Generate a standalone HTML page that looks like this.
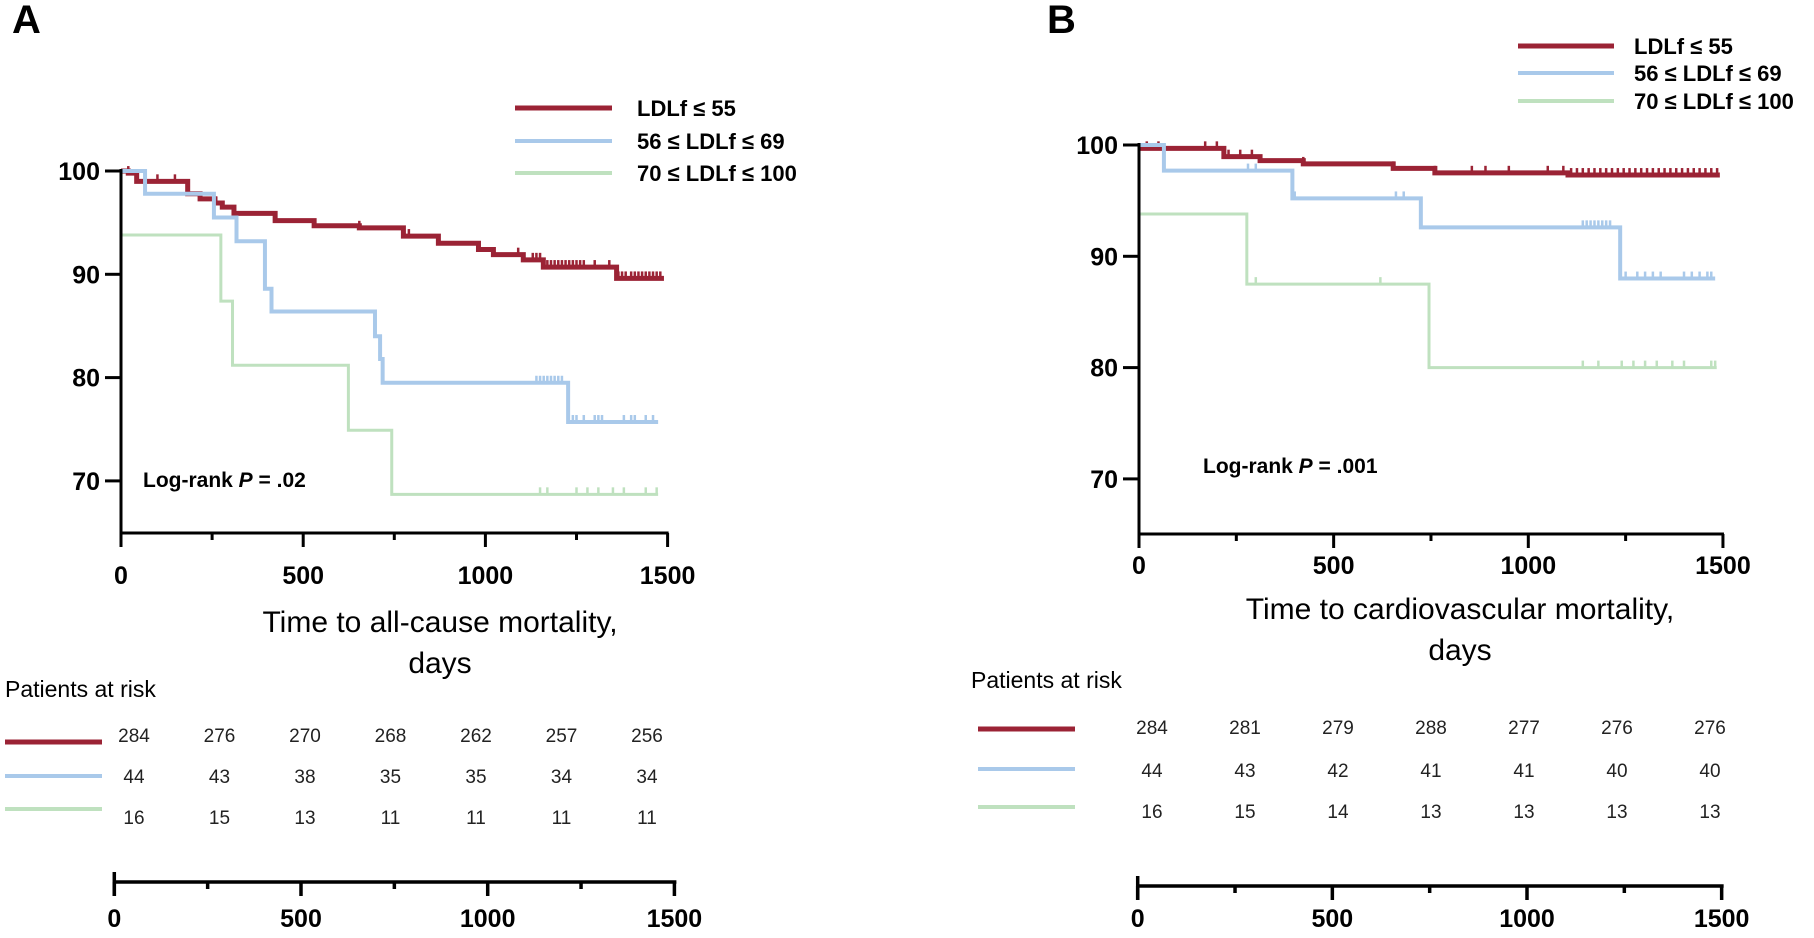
<!DOCTYPE html>
<html><head><meta charset="utf-8"><style>
html,body{margin:0;padding:0;background:#fff;}
svg{display:block;font-family:"Liberation Sans",Arial,sans-serif;}
</style></head><body>
<svg id="chart" width="1814" height="938" viewBox="0 0 1814 938" xmlns="http://www.w3.org/2000/svg">
<rect width="1814" height="938" fill="#fff"/>
<g id="gA"></g>
<g id="gB"></g>
</svg>
<script>
// ---------- data ----------
const tickDays = [0, 500, 1000, 1500];
const minorDays = [250, 750, 1250];
const yTicks = [70, 80, 90, 100];
const seriesNames = ["LDLf \u2264 55", "56 \u2264 LDLf \u2264 69", "70 \u2264 LDLf \u2264 100"];

const aRedT = [0,20,43,183,217,258,278,310,423,530,654,775,871,981,1022,1104,1159,1360];
const aRedV = [100,99.8,99.0,97.8,97.3,96.9,96.5,95.9,95.2,94.7,94.5,93.7,93.0,92.4,91.9,91.4,90.7,89.6];
const aBlueT = [0,66,255,317,395,413,697,711,718,1227];
const aBlueV = [100,97.8,95.5,93.2,88.6,86.4,84.0,81.8,79.5,75.7];
const aGreenT = [0,274,306,624,743];
const aGreenV = [93.8,87.4,81.2,74.9,68.7];
const aEnd = [1490,1474,1474];
const aRedC = [20,100,148,183,217,258,310,423,530,654,775,790,871,981,1022,1090,1104,1130,1140,1150,1160,1170,1180,1190,1200,1210,1220,1230,1240,1250,1260,1270,1300,1340,1365,1375,1385,1400,1410,1420,1430,1440,1450,1460,1470,1480];
const aBlueC = [1140,1150,1160,1170,1180,1190,1200,1210,1240,1250,1270,1300,1310,1320,1380,1400,1410,1440,1460];
const aGreenC = [1150,1170,1250,1280,1310,1350,1380,1440,1470];

const bRedT = [0,218,311,422,653,760,1102];
const bRedV = [99.7,98.95,98.6,98.3,97.9,97.5,97.3];
const bBlueT = [0,64,394,724,1236];
const bBlueV = [100,97.7,95.2,92.6,88.0];
const bGreenT = [0,277,745];
const bGreenV = [93.8,87.5,80.0];
const bEnd = [1492,1480,1484];
const bRedC = [20,50,170,200,230,260,290,422,653,760,855,890,950,1050,1090,1110,1125,1140,1155,1170,1185,1200,1215,1230,1245,1260,1275,1290,1305,1320,1335,1350,1365,1380,1395,1410,1425,1440,1455,1470,1485];
const bBlueC = [280,300,400,660,680,1140,1150,1160,1170,1180,1190,1200,1210,1250,1280,1300,1320,1340,1400,1420,1440,1460,1470];
const bGreenC = [300,620,1140,1180,1240,1270,1300,1330,1370,1400,1470,1480];

const aRiskRed = [284,276,270,268,262,257,256];
const aRiskBlue = [44,43,38,35,35,34,34];
const aRiskGreen = [16,15,13,11,11,11,11];
const bRiskRed = [284,281,279,288,277,276,276];
const bRiskBlue = [44,43,42,41,41,40,40];
const bRiskGreen = [16,15,14,13,13,13,13];

const colors = ["#9b2335", "#a9c9ea", "#bfe1bf"];
const widths = [5, 4, 3];
const NS = "http://www.w3.org/2000/svg";

function mk(parent, tag, attrs, text) {
  const e = document.createElementNS(NS, tag);
  for (const k in attrs) e.setAttribute(k, attrs[k]);
  if (text !== undefined) e.textContent = text;
  parent.appendChild(e);
  return e;
}

function drawPanel(g, cfg) {
  const xS = d => cfg.x0 + d * cfg.pxPerDay;
  const yS = v => cfg.y100 + (100 - v) * cfg.pxPerUnit;
  const L = mk(g, "text", {x: cfg.letterX, y: 33, "font-size": 40, "font-weight": "bold"}, cfg.letter);
  
  
  cfg.series.forEach((s, i) => {
    let d = "M" + xS(s.t[0]) + "," + yS(s.v[0]);
    for (let k = 1; k < s.t.length; k++) {
      d += " H" + xS(s.t[k]) + " V" + yS(s.v[k]);
    }
    d += " H" + xS(s.end);
    const p = mk(g, "path", {d: d, fill: "none", stroke: colors[i], "stroke-width": widths[i]});
    
    
    s.c.forEach(ct => {
      let v = s.v[0];
      for (let k = 0; k < s.t.length; k++) if (s.t[k] <= ct) v = s.v[k];
      const m = mk(g, "line", {x1: xS(ct), x2: xS(ct), y1: yS(v), y2: yS(v) - 7, stroke: colors[i], "stroke-width": 2.5});
      
      
    });
  });
  const ya = mk(g, "line", {x1: cfg.x0, x2: cfg.x0, y1: cfg.y100 - 2, y2: cfg.axisY + 1.5, stroke: "#000", "stroke-width": 3});
  
  
  const xa = mk(g, "line", {x1: cfg.x0 - 1.5, x2: xS(1500) + 1, y1: cfg.axisY, y2: cfg.axisY, stroke: "#000", "stroke-width": 3});
  
  
  yTicks.forEach(v => {
    const t = mk(g, "line", {x1: cfg.x0 - 16, x2: cfg.x0, y1: yS(v), y2: yS(v), stroke: "#000", "stroke-width": 3});
    
    
    const lb = mk(g, "text", {x: cfg.x0 - 21, y: yS(v) + 9, "font-size": 25, "font-weight": "bold", "text-anchor": "end"}, String(v));
    
    
  });
  tickDays.forEach(dv => {
    const t = mk(g, "line", {x1: xS(dv), x2: xS(dv), y1: cfg.axisY, y2: cfg.axisY + 14, stroke: "#000", "stroke-width": 3});
    
    
    const lb = mk(g, "text", {x: xS(dv), y: cfg.xLabelY, "font-size": 25, "font-weight": "bold", "text-anchor": "middle"}, String(dv));
    
    
  });
  minorDays.forEach(dv => {
    const t = mk(g, "line", {x1: xS(dv), x2: xS(dv), y1: cfg.axisY, y2: cfg.axisY + 7, stroke: "#000", "stroke-width": 3});
    
    
  });
  const lr = mk(g, "text", {x: cfg.lrX, y: cfg.lrY, "font-size": 21, "font-weight": "bold"});
  
  
  mk(lr, "tspan", {}, "Log-rank ");
  mk(lr, "tspan", {"font-style": "italic"}, "P");
  mk(lr, "tspan", {}, " = " + cfg.pval);
  seriesNames.forEach((n, i) => {
    const ly = cfg.legY[i];
    const ll = mk(g, "line", {x1: cfg.legX1, x2: cfg.legX2, y1: ly, y2: ly, stroke: colors[i], "stroke-width": i === 0 ? 5 : 4});
    
    
    const lt = mk(g, "text", {x: cfg.legTX, y: ly + 8, "font-size": 22, "font-weight": "bold"}, n);
    
    
  });
  const t1 = mk(g, "text", {x: cfg.titleX, y: cfg.titleY, "font-size": 30, "text-anchor": "middle"}, cfg.title);
  
  
  const t2 = mk(g, "text", {x: cfg.titleX, y: cfg.titleY + 41, "font-size": 30, "text-anchor": "middle"}, "days");
  
  
  const pr = mk(g, "text", {x: cfg.riskTX, y: cfg.riskTY, "font-size": 23}, "Patients at risk");
  
  
  cfg.risk.forEach((row, i) => {
    const ry = cfg.riskY[i];
    const sw = mk(g, "line", {x1: cfg.riskLX1, x2: cfg.riskLX2, y1: cfg.riskLineY[i], y2: cfg.riskLineY[i], stroke: colors[i], "stroke-width": i === 0 ? 5 : 4});
    
    
    row.forEach((n, j) => {
      const tx = mk(g, "text", {x: cfg.riskC0 + j * cfg.riskDx, y: ry + 7, "font-size": 19, fill: "#222", "text-anchor": "middle"}, String(n));
      
      
    });
  });
  const bS = d => cfg.bx0 + d * cfg.bPx;
  const ba = mk(g, "line", {x1: bS(0), x2: bS(1500) + 2, y1: cfg.bY, y2: cfg.bY, stroke: "#000", "stroke-width": 3.5});
  
  
  mk(g, "line", {x1: bS(0), x2: bS(0), y1: cfg.bY - 10, y2: cfg.bY + 14, stroke: "#000", "stroke-width": 3.5});
  tickDays.forEach(dv => {
    const t = mk(g, "line", {x1: bS(dv), x2: bS(dv), y1: cfg.bY, y2: cfg.bY + 14, stroke: "#000", "stroke-width": 3.5});
    
    
    const lb = mk(g, "text", {x: bS(dv), y: 927, "font-size": 25, "font-weight": "bold", "text-anchor": "middle"}, String(dv));
    
    
  });
  minorDays.forEach(dv => {
    mk(g, "line", {x1: bS(dv), x2: bS(dv), y1: cfg.bY, y2: cfg.bY + 7, stroke: "#000", "stroke-width": 3.5});
  });
}

drawPanel(document.getElementById("gA"), {
  letter: "A", letterX: 12,
  x0: 121, pxPerDay: 0.3644, y100: 171, pxPerUnit: 10.33, axisY: 533, xLabelY: 584,
  series: [
    {t: aRedT, v: aRedV, end: aEnd[0], c: aRedC},
    {t: aBlueT, v: aBlueV, end: aEnd[1], c: aBlueC},
    {t: aGreenT, v: aGreenV, end: aEnd[2], c: aGreenC}
  ],
  lrX: 143, lrY: 487, pval: ".02",
  legX1: 515, legX2: 612, legY: [108, 141, 173], legTX: 637,
  title: "Time to all-cause mortality,", titleX: 440, titleY: 632,
  riskTX: 5, riskTY: 697, risk: [aRiskRed, aRiskBlue, aRiskGreen],
  riskY: [735, 776, 817], riskLineY: [742, 776, 809], riskLX1: 5, riskLX2: 102,
  riskC0: 134, riskDx: 85.5,
  bx0: 114.3, bPx: 0.3734, bY: 882
});

drawPanel(document.getElementById("gB"), {
  letter: "B", letterX: 1047,
  x0: 1139, pxPerDay: 0.3893, y100: 145, pxPerUnit: 11.13, axisY: 534, xLabelY: 574,
  series: [
    {t: bRedT, v: bRedV, end: bEnd[0], c: bRedC},
    {t: bBlueT, v: bBlueV, end: bEnd[1], c: bBlueC},
    {t: bGreenT, v: bGreenV, end: bEnd[2], c: bGreenC}
  ],
  lrX: 1203, lrY: 473, pval: ".001",
  legX1: 1518, legX2: 1614, legY: [46, 73, 101], legTX: 1634,
  title: "Time to cardiovascular mortality,", titleX: 1460, titleY: 619,
  riskTX: 971, riskTY: 688, risk: [bRiskRed, bRiskBlue, bRiskGreen],
  riskY: [727, 770, 811], riskLineY: [729, 769, 807], riskLX1: 978, riskLX2: 1075,
  riskC0: 1152, riskDx: 93,
  bx0: 1137.7, bPx: 0.3893, bY: 886
});
</script>
</body></html>
